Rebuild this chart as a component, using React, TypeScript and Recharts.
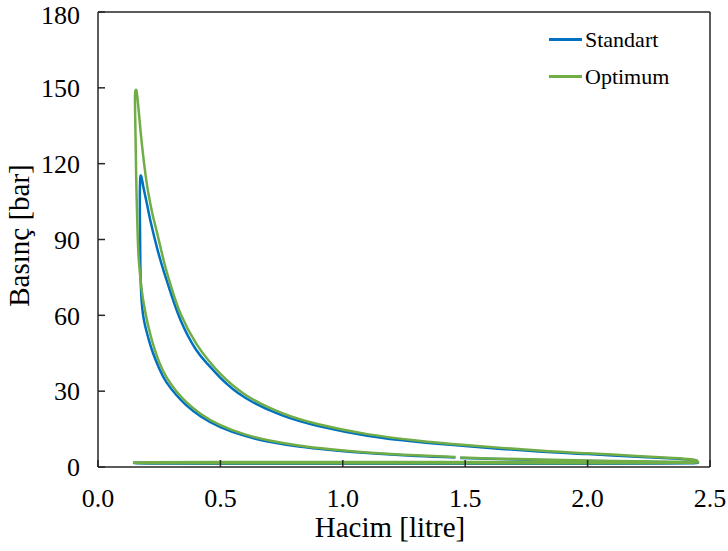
import { LineChart, Line, XAxis, YAxis, Legend, ReferenceLine } from 'recharts';

// #region Chart data
const xTicks = [0, 0.5, 1, 1.5, 2, 2.5];
const yTicks = [0, 30, 60, 90, 120, 150, 180];
const seriesNames = ['Standart', 'Optimum'];

// Standart, in cycle order: intake -> compression (gap near 1.47 l) -> peak -> expansion -> exhaust
const standartVolume = [
  0.145, 0.2, 0.5, 1.0, 1.5, 2.0, 2.3, 2.42,
  2.445, 2.42, 2.2, 2.0, 1.8, 1.6, 1.48, 1.47, 1.46, 1.3, 1.1, 0.95, 0.82, 0.7, 0.6, 0.5, 0.42, 0.36, 0.32, 0.28, 0.25, 0.225, 0.21, 0.2, 0.19, 0.183, 0.178, 0.175, 0.173, 0.172, 0.171, 0.171, 0.172, 0.174,
  0.178, 0.185, 0.2, 0.215, 0.243, 0.27, 0.3, 0.34, 0.4, 0.45, 0.5, 0.6, 0.75, 0.9, 1.1, 1.3, 1.5, 1.8, 2.0, 2.2, 2.35, 2.42, 2.445,
  2.43, 2.3, 2.0, 1.5, 1.0, 0.5, 0.2, 0.145,
];
const standartPressure = [
  1.6, 1.4, 1.3, 1.3, 1.3, 1.3, 1.35, 1.45,
  1.6, 1.8, 2.1, 2.4, 2.8, 3.25, 3.6, null, 3.8, 4.4, 5.5, 6.7, 8.1, 10.0, 12.3, 15.8, 20.0, 24.5, 28.5, 33.5, 39, 45, 49.5, 53, 57, 61, 66, 72, 80, 90, 100, 108, 113, 115.2,
  114.5, 111, 104, 97, 86, 77, 68, 57.5, 46.5, 40.5, 35.3, 27.5, 20.5, 16.2, 12.4, 10.0, 8.3, 6.1, 5.1, 4.1, 3.4, 2.9, 2.4,
  2.0, 1.9, 1.85, 1.8, 1.8, 1.8, 1.75, 1.7,
];

// Optimum, same order
const optimumVolume = [
  0.143, 0.2, 0.5, 1.0, 1.5, 2.0, 2.3, 2.42,
  2.445, 2.42, 2.2, 2.0, 1.8, 1.6, 1.48, 1.47, 1.46, 1.3, 1.1, 0.95, 0.82, 0.7, 0.6, 0.5, 0.42, 0.36, 0.32, 0.28, 0.25, 0.23, 0.215, 0.2, 0.19, 0.18, 0.172, 0.166, 0.162, 0.159, 0.156, 0.154, 0.152, 0.151, 0.152, 0.155,
  0.16, 0.17, 0.18, 0.195, 0.21, 0.225, 0.243, 0.27, 0.3, 0.34, 0.4, 0.45, 0.5, 0.6, 0.75, 0.9, 1.1, 1.3, 1.5, 1.8, 2.0, 2.2, 2.35, 2.42, 2.445,
  2.43, 2.3, 2.0, 1.5, 1.0, 0.5, 0.2, 0.143,
];
const optimumPressure = [
  1.8, 1.6, 1.5, 1.5, 1.5, 1.5, 1.55, 1.65,
  1.8, 2.0, 2.25, 2.55, 2.95, 3.4, 3.75, null, 3.95, 4.6, 5.75, 7.0, 8.5, 10.5, 12.9, 16.6, 21.0, 25.8, 30, 35.5, 41.5, 47, 52, 58, 63, 69, 76, 83, 92, 102, 115, 127, 138, 145, 148.3, 149.2,
  147, 137, 127, 115, 106, 99, 92, 81, 71, 60, 49, 42.3, 36.8, 28.7, 21.4, 16.9, 13.0, 10.5, 8.7, 6.5, 5.4, 4.4, 3.6, 3.1, 2.6,
  2.2, 2.05, 2.0, 1.95, 1.95, 1.95, 1.9, 1.8,
];
// #endregion

const toPoints = (vol: number[], pres: (number | null)[]) =>
  vol.map((v, i) => ({ v, p: pres[i] }));

const standartData = toPoints(standartVolume, standartPressure);
const optimumData = toPoints(optimumVolume, optimumPressure);

const font = '"Liberation Serif", "Times New Roman", serif';
const axisColor = '#262626';

const renderLegend = (props: any) => {
  const items = [...(props.payload || [])].sort(
    (a: any, b: any) => seriesNames.indexOf(a.value) - seriesNames.indexOf(b.value)
  );
  return (
    <div style={{ fontFamily: font, fontSize: 22, color: '#000' }}>
      {items.map((item: any) => (
        <div key={item.value} style={{ display: 'flex', alignItems: 'center', height: 37 }}>
          <span style={{ display: 'inline-block', width: 33, height: 2.5, background: item.color, marginRight: 3 }} />
          <span style={{ fontFamily: font }}>{item.value}</span>
        </div>
      ))}
    </div>
  );
};

const XTitle = (props: any) => {
  const { x, y, width } = props.viewBox;
  return (
    <text x={x + width / 2 - 14} y={y + 70} textAnchor="middle" fontFamily={font} fontSize={29} fill="#000">
      Hacim [litre]
    </text>
  );
};

const YTitle = (props: any) => {
  const { x, y, height } = props.viewBox;
  const cx = x + 11;
  const cy = y + height / 2 - 4;
  return (
    <text x={cx} y={cy} transform={`rotate(-90, ${cx}, ${cy})`} textAnchor="middle" dominantBaseline="central" fontFamily={font} fontSize={29} fill="#000">
      Basınç [bar]
    </text>
  );
};

const PressureVolumeChart = () => {
  return (
    <div style={{ position: 'absolute', left: 0, top: 0, background: '#fff' }}>
      <LineChart width={728} height={551} margin={{ top: 12, right: 18, left: 8, bottom: 0 }}>
        <XAxis
          dataKey="v"
          type="number"
          domain={[0, 2.5]}
          ticks={xTicks}
          tickFormatter={(v: number) => v.toFixed(1)}
          height={84}
          stroke={axisColor}
          strokeWidth={1.5}
          tickSize={-7}
          tickMargin={29}
          tick={{ fill: '#000', fontSize: 26, fontFamily: font }}
          label={{ content: XTitle }}
          allowDataOverflow
        />
        <YAxis
          type="number"
          domain={[0, 180]}
          ticks={yTicks}
          width={90}
          stroke={axisColor}
          strokeWidth={1.5}
          tickSize={-7}
          tickMargin={25}
          tick={{ fill: '#000', fontSize: 26, fontFamily: font }}
          label={{ content: YTitle }}
          allowDataOverflow
        />
        {/* plot frame: top and right edges */}
        <ReferenceLine y={180} stroke={axisColor} strokeWidth={1.5} ifOverflow="visible" />
        <ReferenceLine x={2.5} stroke={axisColor} strokeWidth={1.5} ifOverflow="visible" />
        <Legend
          layout="vertical"
          align="center"
          verticalAlign="middle"
          content={renderLegend}
          wrapperStyle={{ position: 'absolute', left: 549, top: 21, width: 'auto' }}
        />
        <Line
          name="Standart"
          data={standartData}
          dataKey="p"
          type="natural"
          stroke="#0070C0"
          strokeWidth={2.5}
          dot={false}
          activeDot={false}
          isAnimationActive={false}
        />
        <Line
          name="Optimum"
          data={optimumData}
          dataKey="p"
          type="natural"
          stroke="#70AD47"
          strokeWidth={2.5}
          dot={false}
          activeDot={false}
          isAnimationActive={false}
        />
      </LineChart>
    </div>
  );
};

export default PressureVolumeChart;
